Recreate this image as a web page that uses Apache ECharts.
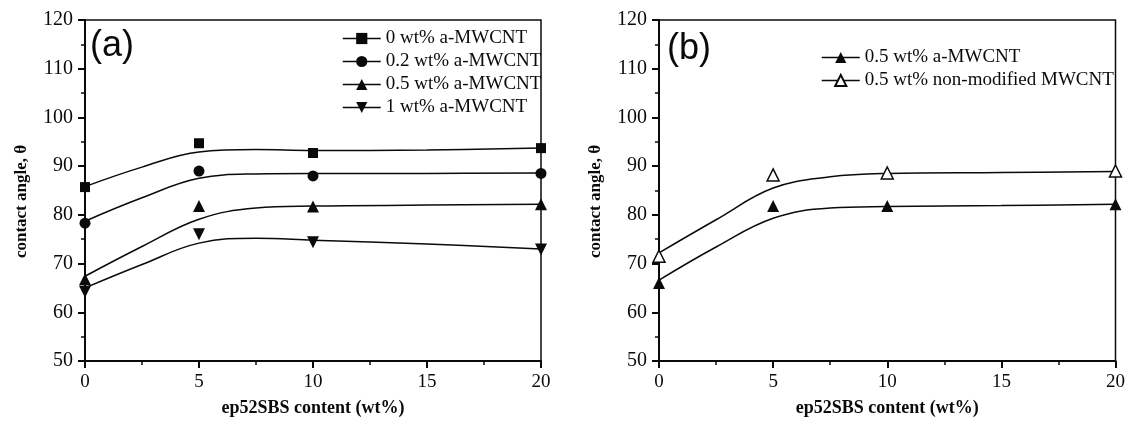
<!DOCTYPE html>
<html>
<head>
<meta charset="utf-8">
<script src="https://cdn.jsdelivr.net/npm/echarts@6/dist/echarts.min.js"></script>
<style>html,body{margin:0;padding:0;background:#fff}#c{width:1128px;height:422px}</style>
</head>
<body>
<div id="c"></div>
<script>
// ---- data ----
var xPoints = [0, 5, 10, 20];
var namesA = ['0 wt% a-MWCNT', '0.2 wt% a-MWCNT', '0.5 wt% a-MWCNT', '1 wt% a-MWCNT'];
var namesB = ['0.5 wt% a-MWCNT', '0.5 wt% non-modified MWCNT'];
var a0  = [85.7, 94.7, 92.7, 93.7];
var a02 = [78.3, 89.0, 88.0, 88.5];
var a05 = [66.8, 81.8, 81.7, 82.2];
var a1  = [64.2, 76.0, 74.4, 72.9];
var bA05 = [66.0, 81.8, 81.8, 82.2];
var bNM  = [71.5, 88.2, 88.6, 89.0];
// fitted curves
var xFit = [0, 2.5, 5, 7.5, 10, 15, 20];
var fitA0  = [85.8, 89.8, 92.9, 93.4, 93.2, 93.3, 93.7];
var fitA02 = [78.7, 83.5, 87.5, 88.4, 88.5, 88.5, 88.6];
var fitA05 = [67.4, 73.5, 79.1, 81.4, 81.8, 82.0, 82.2];
var fitA1  = [65.0, 69.8, 74.2, 75.2, 74.8, 74.0, 73.0];
var fitB05 = [66.6, 73.4, 79.3, 81.4, 81.7, 81.9, 82.2];
var fitBNM = [72.2, 79.0, 85.5, 87.8, 88.5, 88.7, 88.9];
var yTicks = [50, 60, 70, 80, 90, 100, 110, 120];
var xTicks = [0, 5, 10, 15, 20];

function pairs(xs, ys){ return xs.map(function(x,i){return [x, ys[i]];}); }

var serif = 'Liberation Serif';
var ink = '#0a0a0a';
function xAxis(gi){
  return {
    type:'value', gridIndex:gi, min:xTicks[0], max:xTicks[xTicks.length-1], interval:5,
    name:'ep52SBS content (wt%)', nameLocation:'middle', nameGap:38,
    nameTextStyle:{fontFamily:serif, fontSize:18, fontWeight:'bold', color:ink},
    axisLine:{lineStyle:{color:ink, width:2}},
    axisTick:{show:true, length:7, lineStyle:{color:ink, width:2}},
    minorTick:{show:true, splitNumber:2, length:4, lineStyle:{color:ink, width:1.5}},
    axisLabel:{fontFamily:serif, fontSize:19, color:ink, margin:12},
    splitLine:{show:false}
  };
}
function yAxis(gi){
  return {
    type:'value', gridIndex:gi, min:yTicks[0], max:yTicks[yTicks.length-1], interval:10,
    name:'contact angle, θ', nameLocation:'middle', nameGap:55,
    nameTextStyle:{fontFamily:serif, fontSize:17, fontWeight:'bold', color:ink, padding:[0,22,0,0]},
    axisLine:{lineStyle:{color:ink, width:2}},
    axisTick:{show:true, length:7, lineStyle:{color:ink, width:2}},
    minorTick:{show:true, splitNumber:2, length:4, lineStyle:{color:ink, width:1.5}},
    axisLabel:{fontFamily:serif, fontSize:20, color:ink, margin:12},
    splitLine:{show:false}
  };
}
function pts(name, gi, data, symbol, rot, hollow, size){
  return {
    type:'line', name:name, xAxisIndex:gi, yAxisIndex:gi, data:data,
    symbol:symbol, symbolSize:size, symbolRotate:rot||0, showSymbol:true,
    lineStyle:{width:0, opacity:0}, z:5,
    itemStyle:{color: hollow ? '#fff' : ink, borderColor:ink, borderWidth: hollow ? 1.5 : 0},
    emphasis:{disabled:true}, animation:false
  };
}
function fit(gi, data){
  return {
    type:'line', xAxisIndex:gi, yAxisIndex:gi, data:data, smooth:0.4,
    showSymbol:false, symbol:'none', lineStyle:{color:ink, width:1.5},
    emphasis:{disabled:true}, animation:false, z:3
  };
}
var legendCommon = {
  orient:'vertical', itemWidth:38, itemHeight:14, itemGap:4,
  textStyle:{fontFamily:serif, fontSize:19, color:ink, lineHeight:19},
  lineStyle:{width:1.5, opacity:1, color:ink},
  selectedMode:false
};
var option = {
  backgroundColor:'#fff',
  animation:false,
  grid:[
    {left:85, right:587, top:20, bottom:61, show:true, borderColor:ink, borderWidth:1.5, backgroundColor:'transparent'},
    {left:659, right:10, top:20, bottom:61, show:true, borderColor:ink, borderWidth:1.5, backgroundColor:'transparent'}
  ],
  xAxis:[xAxis(0), xAxis(1)],
  yAxis:[yAxis(0), yAxis(1)],
  legend:[
    Object.assign({}, legendCommon, {left:337, top:24, data:namesA}),
    Object.assign({}, legendCommon, {left:816, top:43, data:namesB})
  ],
  graphic:[
    {type:'text', left:90, top:28, style:{text:'(a)', font:'36px "Liberation Sans"', fill:ink}},
    {type:'text', left:667, top:31, style:{text:'(b)', font:'36px "Liberation Sans"', fill:ink}}
  ],
  series:[
    fit(0, pairs(xFit, fitA0)),
    fit(0, pairs(xFit, fitA02)),
    fit(0, pairs(xFit, fitA05)),
    fit(0, pairs(xFit, fitA1)),
    fit(1, pairs(xFit, fitB05)),
    fit(1, pairs(xFit, fitBNM)),
    pts(namesA[0], 0, pairs(xPoints, a0), 'rect', 0, false, 10),
    pts(namesA[1], 0, pairs(xPoints, a02), 'circle', 0, false, 11),
    pts(namesA[2], 0, pairs(xPoints, a05), 'triangle', 0, false, 12),
    pts(namesA[3], 0, pairs(xPoints, a1), 'triangle', 180, false, 12),
    pts(namesB[0], 1, pairs(xPoints, bA05), 'triangle', 0, false, 12),
    pts(namesB[1], 1, pairs(xPoints, bNM), 'triangle', 0, true, 12)
  ]
};
var chart = echarts.init(document.getElementById('c'), null, {renderer:'canvas'});
chart.setOption(option);
</script>
</body>
</html>
